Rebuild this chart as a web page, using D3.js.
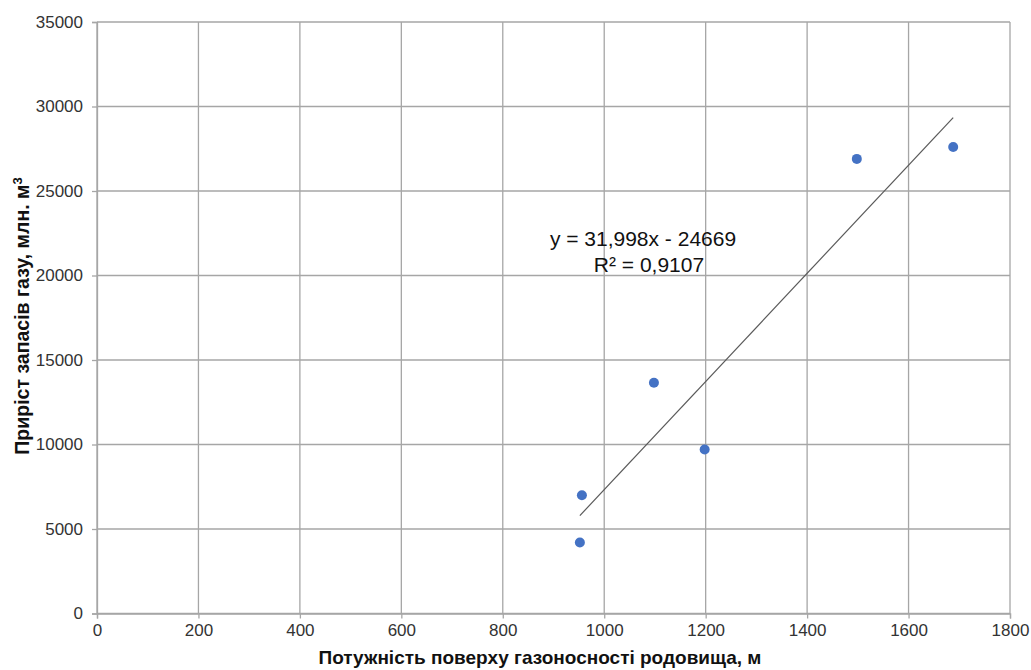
<!DOCTYPE html>
<html>
<head>
<meta charset="utf-8">
<script src="https://cdn.jsdelivr.net/npm/d3@7"></script>
<style>
  html, body { margin: 0; padding: 0; background: #fff; }
  svg { display: block; font-family: "Liberation Sans", Arial, sans-serif; }
</style>
</head>
<body>
<svg id="chart" width="1031" height="670"></svg>
<script>
// Field thickness (m) vs. gas reserve growth (mln m3)
const thickness = [952, 956, 1098, 1198, 1498, 1688];
const reserves = [4200, 7000, 13650, 9700, 26900, 27600];
const xTicks = [0, 200, 400, 600, 800, 1000, 1200, 1400, 1600, 1800];
const yTicks = [0, 5000, 10000, 15000, 20000, 25000, 30000, 35000];
const slope = 31.998;
const intercept = -24669;
const rSquared = "0,9107";

(function () {
  const svg = d3.select("#chart");
  const plotLeft = 97, plotRight = 1010, plotTop = 22, plotBottom = 613.5;

  const x = d3.scaleLinear().domain([0, 1800]).range([plotLeft, plotRight]);
  const y = d3.scaleLinear().domain([0, 35000]).range([plotBottom, plotTop]);

  const gridColor = "#a6a6a6";

  // grid
  svg.append("g").selectAll("line").data(xTicks).join("line")
    .attr("x1", d => x(d)).attr("x2", d => x(d))
    .attr("y1", plotTop).attr("y2", plotBottom)
    .attr("stroke", gridColor).attr("stroke-width", 1.3);
  svg.append("g").selectAll("line").data(yTicks).join("line")
    .attr("x1", plotLeft).attr("x2", plotRight)
    .attr("y1", d => y(d)).attr("y2", d => y(d))
    .attr("stroke", gridColor).attr("stroke-width", 1.3);

  // axes
  const xAxis = svg.append("g").attr("transform", `translate(0,${plotBottom})`)
    .call(d3.axisBottom(x).tickValues(xTicks).tickSize(5).tickPadding(5).tickFormat(d3.format("d")));
  const yAxis = svg.append("g").attr("transform", `translate(${plotLeft},0)`)
    .call(d3.axisLeft(y).tickValues(yTicks).tickSize(5).tickPadding(9).tickFormat(d3.format("d")));
  [xAxis, yAxis].forEach(a => {
    a.select(".domain").attr("stroke", gridColor).attr("stroke-width", 1.3);
    a.selectAll(".tick line").attr("stroke", gridColor).attr("stroke-width", 1.3);
    a.selectAll(".tick text").attr("fill", "#333")
      .style("font-size", "17px").style("font-family", "Liberation Sans, Arial, sans-serif");
  });

  // trend line
  const xs = d3.extent(thickness);
  svg.append("line")
    .attr("x1", x(xs[0])).attr("y1", y(slope * xs[0] + intercept))
    .attr("x2", x(xs[1])).attr("y2", y(slope * xs[1] + intercept))
    .attr("stroke", "#595959").attr("stroke-width", 1.2);

  // points
  svg.append("g").selectAll("circle").data(thickness).join("circle")
    .attr("cx", d => x(d)).attr("cy", (d, i) => y(reserves[i]))
    .attr("r", 5).attr("fill", "#4472c4");

  // regression label
  const eq = svg.append("text").attr("text-anchor", "middle")
    .attr("fill", "#111").style("font-size", "21px");
  eq.append("tspan").attr("x", 643).attr("y", 246)
    .text(`y = ${String(slope).replace(".", ",")}x - ${Math.abs(intercept)}`);
  eq.append("tspan").attr("x", 649).attr("y", 272).text(`R² = ${rSquared}`);

  // axis titles
  svg.append("text").attr("x", 540).attr("y", 664)
    .attr("text-anchor", "middle").attr("font-weight", "bold")
    .style("font-size", "19px").attr("fill", "#111")
    .text("Потужність поверху газоносності родовища, м");

  const yt = svg.append("text")
    .attr("transform", "translate(29,316) rotate(-90)")
    .attr("text-anchor", "middle").attr("font-weight", "bold")
    .style("font-size", "19.5px").attr("fill", "#111");
  yt.append("tspan").text("Приріст запасів газу, млн. м");
  yt.append("tspan").attr("dy", -7).style("font-size", "13px").text("3");
})();
</script>
</body>
</html>
